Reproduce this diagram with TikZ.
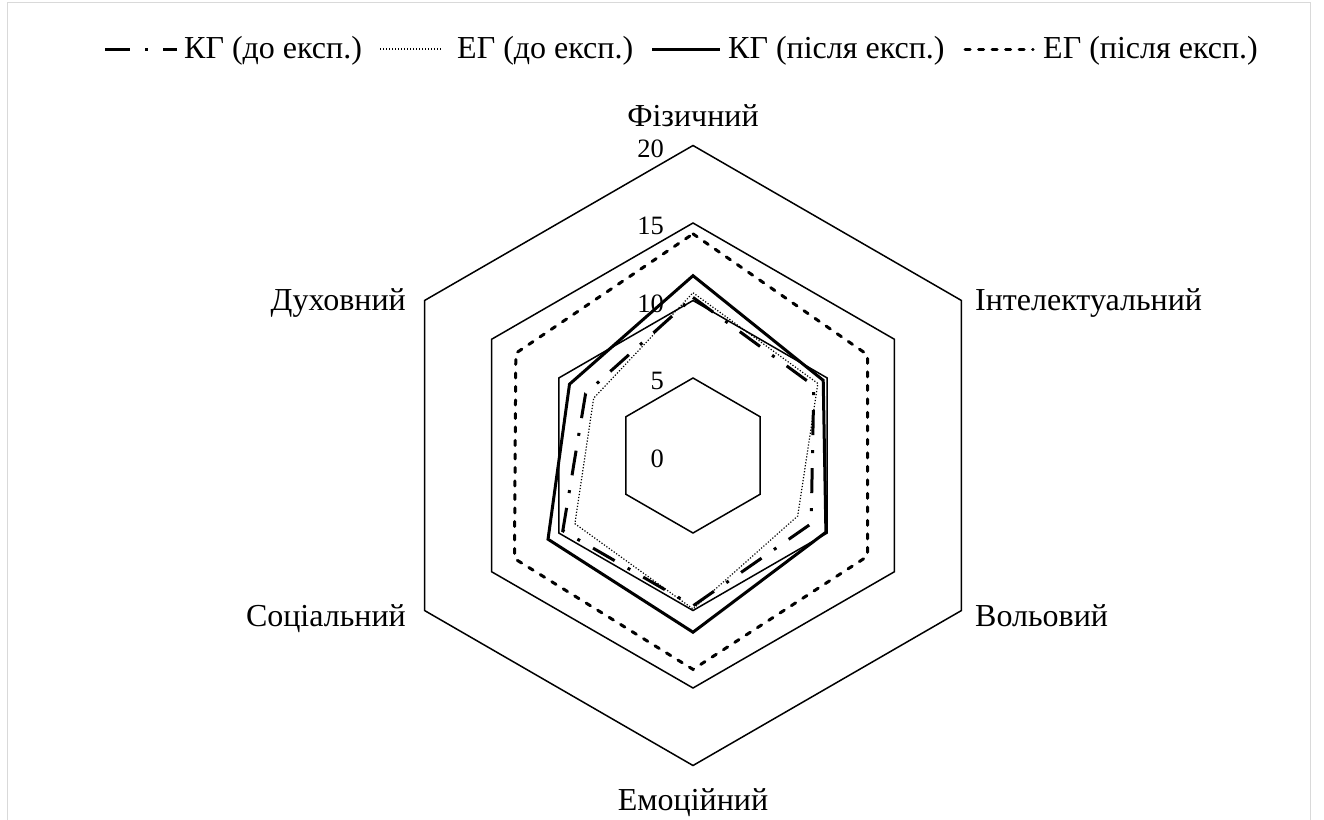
\documentclass[tikz,border=0pt]{standalone}
\usepackage{fontspec}
\setmainfont{Liberation Serif}
\usetikzlibrary{positioning}

\tikzset{
  gridline/.style={line width=1.5pt},
  kgdo/.style={line width=3pt, dash pattern=on 25pt off 15pt on 3pt off 15pt},
  egdo/.style={line width=1.2pt, dash pattern=on 1.2pt off 1.8pt},
  kgpislia/.style={line width=3pt},
  egpislia/.style={line width=3pt, line cap=round, dash pattern=on 5pt off 8.5pt},
  lbl/.style={font=\fontsize{32}{36}\selectfont, inner sep=0pt},
  numlbl/.style={font=\fontsize{26.5}{30}\selectfont, inner sep=0pt},
}

\begin{document}
\begin{tikzpicture}[x=1pt,y=1pt]
  \useasboundingbox (0,0) rectangle (1324,-819);
  \draw[black!15, line width=1pt] (7,-840) -- (7,-2) -- (1310,-2) -- (1310,-840);

  % legend
  \coordinate (l1a) at (105,-49); \coordinate (l1b) at (177,-49);
  \coordinate (l2a) at (380,-49); \coordinate (l2b) at (442,-49);
  \coordinate (l3a) at (652,-49); \coordinate (l3b) at (720,-49);
  \coordinate (l4a) at (965,-49); \coordinate (l4b) at (1033,-49);
  \draw[kgdo] (l1a) -- (l1b);
  \draw[egdo] (l2a) -- (l2b);
  \draw[kgpislia] (l3a) -- (l3b);
  \draw[egpislia] (l4a) -- (l4b);
  \node[lbl, anchor=base west] (t1) at (184,-58) {КГ (до експ.)};
  \node[lbl, anchor=base west] (t2) at (457,-58) {ЕГ (до експ.)};
  \node[lbl, anchor=base west] (t3) at (728,-58) {КГ (після експ.)};
  \node[lbl, anchor=base west] (t4) at (1043,-58) {ЕГ (після експ.)};

  % axis titles
  \node[lbl, anchor=base] (fiz) at (693,-126) {Фізичний};
  \node[lbl, anchor=base west] (int) at (975,-310) {Інтелектуальний};
  \node[lbl, anchor=base west] (vol) at (975,-626) {Вольовий};
  \node[lbl, anchor=base] (emo) at (693,-810) {Емоційний};
  \node[lbl, anchor=base east] (soc) at (406,-626) {Соціальний};
  \node[lbl, anchor=base east] (dukh) at (406,-310) {Духовний};

  % scale numbers
  \foreach \v in {0,5,10,15,20}
    \node[numlbl, anchor=base east] (n\v) at (664,{-467+\v*15.5}) {\v};

  \begin{scope}[shift={(693pt,-455.5pt)}, x=15.5pt, y=15.5pt]
    \foreach \r in {5,10,15,20}
      \draw[gridline] (90:\r) -- (30:\r) -- (-30:\r) -- (-90:\r) -- (210:\r) -- (150:\r) -- cycle;
    \draw[egdo] (90:10.5) -- (30:9.3) -- (-30:7.8) -- (-90:9.9) -- (210:8.8) -- (150:7.4) -- cycle;
    \draw[kgdo] (90:10.2) -- (30:9.0) -- (-30:8.8) -- (-90:9.7) -- (210:9.7) -- (150:8.0) -- cycle;
    \draw[kgpislia] (90:11.6) -- (30:9.7) -- (-30:9.9) -- (-90:11.4) -- (210:10.8) -- (150:9.2) -- cycle;
    \draw[egpislia] (90:14.3) -- (30:13.0) -- (-30:13.0) -- (-90:13.8) -- (210:13.3) -- (150:13.2) -- cycle;
  \end{scope}
\end{tikzpicture}
\end{document}
